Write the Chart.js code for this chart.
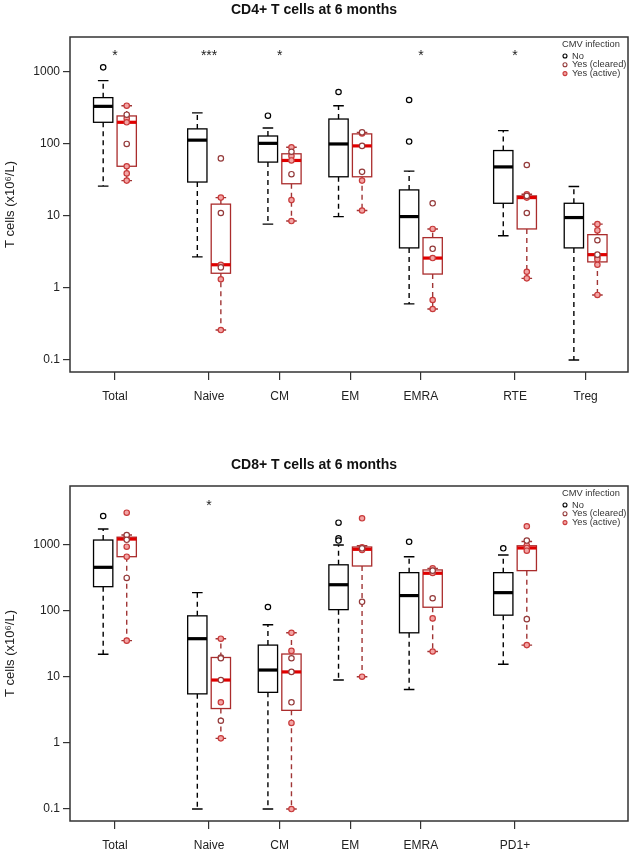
<!DOCTYPE html>
<html>
<head>
<meta charset="utf-8">
<script src="https://cdn.jsdelivr.net/npm/chart.js@4.4.1/dist/chart.umd.min.js"></script>
<style>
  body { margin: 0; background: #fff; }
  #wrap { position: relative; width: 632px; height: 853px; }
  canvas { position: absolute; left: 0; }
</style>
</head>
<body>
<div id="wrap">
  <canvas id="cd4Chart" width="632" height="450" style="top:0;width:632px;height:450px"></canvas>
  <canvas id="cd8Chart" width="632" height="403" style="top:450px;width:632px;height:403px"></canvas>
</div>
<script>
// ---- CD4+ panel data ----
const cd4Categories = ['Total', 'Naive', 'CM', 'EM', 'EMRA', 'RTE', 'Treg'];
const cd4Signif = ['*', '***', '*', '', '*', '*', ''];
// [lower whisker, Q1, median, Q3, upper whisker]
const cd4NoBox = [
  [26, 200, 333, 440, 757],
  [2.7, 29.6, 113, 162, 270],
  [7.7, 56, 102, 129, 167],
  [9.8, 35, 100, 222, 340],
  [0.6, 3.6, 9.8, 23, 42],
  [5.3, 15, 48, 81, 153],
  [0.1, 3.6, 9.5, 15, 25.6]
];
const cd4NoOutliers = [[1160], [], [247], [527], [408, 108], [], []];
const cd4PosBox = [
  [31, 49, 200, 245, 340],
  [0.26, 1.6, 2.1, 14.6, 18],
  [8.5, 28, 59, 73, 90],
  [11.9, 35, 94, 138, 145],
  [0.51, 1.56, 2.6, 5.0, 6.6],
  [1.36, 6.6, 18, 19, 20],
  [0.8, 2.3, 2.9, 5.5, 7.7]
];
const cd4Cleared = [[100, 255], [63, 11, 1.93], [78, 38], [145, 94, 41], [15, 3.5], [51, 19, 11], [4.6, 2.9]];
const cd4Active = [[340, 225, 200, 49, 39, 31], [18, 2.1, 1.32, 0.26], [90, 68, 59, 16.6, 8.5],
  [140, 31, 11.9], [6.6, 2.6, 0.68, 0.51], [20, 18, 1.68, 1.36], [7.7, 6.3, 2.7, 2.5, 2.1, 0.8]];

// ---- CD8+ panel data ----
const cd8Categories = ['Total', 'Naive', 'CM', 'EM', 'EMRA', 'PD1+'];
const cd8Signif = ['', '*', '', '', '', ''];
const cd8NoBox = [
  [21.8, 229, 449, 1160, 1700],
  [0.1, 5.5, 37.5, 83, 186],
  [0.1, 5.8, 12.6, 30, 61],
  [8.9, 103, 245, 490, 975],
  [6.4, 46, 168, 373, 650],
  [15.4, 85, 186, 373, 690]
];
const cd8NoOutliers = [[2670], [], [113], [2120, 1230, 1140], [1090], [870]];
const cd8PosBox = [
  [35, 650, 1200, 1280, 1380],
  [1.17, 3.3, 8.9, 19.5, 37.5],
  [0.1, 3.1, 11.8, 22, 46],
  [10, 470, 840, 910, 950],
  [24, 112, 365, 410, 433],
  [30, 400, 880, 950, 1100]
];
const cd8Cleared = [[1380, 1170, 310], [19.5, 19, 8.9, 2.16], [19, 11.8, 4.1], [870, 135], [400, 153], [1140, 74]];
const cd8Active = [[3000, 1250, 920, 650, 35], [37.5, 4.1, 1.17], [46, 24.5, 2.0, 0.1],
  [2470, 900, 820, 10], [433, 370, 76, 24], [1870, 960, 880, 800, 30]];

const yTicks = [0.1, 1, 10, 100, 1000];
const legendLabels = ['No', 'Yes (cleared)', 'Yes (active)'];

// layout: horizontal slot of each category, box offset and widths (in slot units)
const slots = [1, 5, 8, 11, 14, 18, 21];
const BOX_W = 0.82, CAP_W = 0.45, SHIFT = 0.5;

const FONT = '"Liberation Sans", Arial, sans-serif';
Chart.defaults.font.family = FONT;
Chart.defaults.color = '#222';

const colNo = { line: '#000', border: '#000', median: '#000' };
const colPos = { line: '#a03535', border: '#aa2c2c', median: '#e00000' };
const markerStyles = [
  { stroke: '#000', fill: '#fff' },
  { stroke: '#943a3a', fill: '#fff' },
  { stroke: '#c83a3a', fill: '#f3a5a5' }
];

function toPoints(lists, offset) {
  return lists.flatMap((arr, i) => arr.map(v => ({ x: slots[i] + offset, y: v })));
}

function boxPlugin(p) {
  return {
    id: 'boxes',
    beforeDatasetsDraw(chart) {
      const { ctx, scales: { x, y } } = chart;
      ctx.save();
      [[p.noBox, -SHIFT, colNo], [p.posBox, SHIFT, colPos]].forEach(([stats, off, col]) => {
        stats.forEach((s, i) => {
          const c = slots[i] + off;
          const x0 = x.getPixelForValue(c - BOX_W / 2), x1 = x.getPixelForValue(c + BOX_W / 2);
          const xc = x.getPixelForValue(c);
          const k0 = x.getPixelForValue(c - CAP_W / 2), k1 = x.getPixelForValue(c + CAP_W / 2);
          const [lo, q1, med, q3, hi] = s.map(v => y.getPixelForValue(v));
          ctx.strokeStyle = col.line;
          ctx.lineWidth = 1.4;
          ctx.setLineDash([5, 4]);
          ctx.beginPath();
          ctx.moveTo(xc, q3); ctx.lineTo(xc, hi);
          ctx.moveTo(xc, q1); ctx.lineTo(xc, lo);
          ctx.stroke();
          ctx.setLineDash([]);
          ctx.beginPath();
          ctx.moveTo(k0, hi); ctx.lineTo(k1, hi);
          ctx.moveTo(k0, lo); ctx.lineTo(k1, lo);
          ctx.stroke();
          ctx.fillStyle = '#fff';
          ctx.fillRect(x0, q3, x1 - x0, q1 - q3);
          ctx.strokeStyle = col.border;
          ctx.lineWidth = 1.3;
          ctx.strokeRect(x0, q3, x1 - x0, q1 - q3);
          ctx.strokeStyle = col.median;
          ctx.lineWidth = 3.2;
          ctx.beginPath();
          ctx.moveTo(x0, med); ctx.lineTo(x1, med);
          ctx.stroke();
        });
      });
      ctx.restore();
    },
    afterDraw(chart) {
      const { ctx, chartArea: a, scales: { x, y } } = chart;
      ctx.save();
      // plot frame
      ctx.strokeStyle = '#333';
      ctx.lineWidth = 1.5;
      ctx.strokeRect(a.left, a.top, a.right - a.left, a.bottom - a.top);
      // significance stars
      ctx.fillStyle = '#222';
      ctx.font = '14px ' + FONT;
      ctx.textAlign = 'center';
      ctx.textBaseline = 'alphabetic';
      p.signif.forEach((s, i) => {
        if (s) ctx.fillText(s, x.getPixelForValue(slots[i]), y.getPixelForValue(p.starValue) + 7);
      });
      // legend
      ctx.textAlign = 'left';
      ctx.textBaseline = 'middle';
      ctx.font = '9.3px ' + FONT;
      ctx.fillStyle = '#333';
      ctx.fillText('CMV infection', a.right - 66, a.top + 7);
      legendLabels.forEach((lab, k) => {
        const ly = a.top + 19 + k * 8.8;
        ctx.beginPath();
        ctx.arc(a.right - 63, ly, 2, 0, Math.PI * 2);
        ctx.fillStyle = markerStyles[k].fill;
        ctx.fill();
        ctx.strokeStyle = markerStyles[k].stroke;
        ctx.lineWidth = 1.1;
        ctx.stroke();
        ctx.fillStyle = '#333';
        ctx.fillText(lab, a.right - 56, ly);
      });
      ctx.restore();
    }
  };
}

function makeChart(id, p) {
  const pt = { pointRadius: 2.7, pointHoverRadius: 2.7, pointBorderWidth: 1.2, showLine: false };
  new Chart(document.getElementById(id), {
    type: 'scatter',
    data: {
      datasets: [
        Object.assign({ label: legendLabels[0], data: toPoints(p.noOut, -SHIFT),
          borderColor: markerStyles[0].stroke, backgroundColor: markerStyles[0].fill }, pt),
        Object.assign({ label: legendLabels[1], data: toPoints(p.cleared, SHIFT),
          borderColor: markerStyles[1].stroke, backgroundColor: markerStyles[1].fill }, pt),
        Object.assign({ label: legendLabels[2], data: toPoints(p.active, SHIFT),
          borderColor: markerStyles[2].stroke, backgroundColor: markerStyles[2].fill }, pt)
      ]
    },
    options: {
      responsive: false,
      animation: false,
      devicePixelRatio: 1,
      events: [],
      layout: { padding: { left: 0, right: 4, top: 0, bottom: 0 } },
      plugins: {
        legend: { display: false },
        tooltip: { enabled: false },
        title: {
          display: true,
          text: p.title,
          color: '#111',
          font: { size: 14, weight: 'bold' },
          padding: p.titlePad
        }
      },
      scales: {
        x: {
          type: 'linear',
          min: -0.91,
          max: 22.8,
          afterBuildTicks: s => { s.ticks = slots.slice(0, p.categories.length).map(v => ({ value: v })); },
          afterFit: s => { s.height = p.xHeight; },
          ticks: {
            autoSkip: false,
            maxRotation: 0,
            padding: 9,
            font: { size: 12 },
            color: '#222',
            callback: v => p.categories[slots.indexOf(v)]
          },
          grid: { drawOnChartArea: false, drawTicks: true, tickLength: 8, color: '#333', lineWidth: 1.2 },
          border: { display: false }
        },
        y: {
          type: 'logarithmic',
          min: p.yMin,
          max: p.yMax,
          afterBuildTicks: s => { s.ticks = yTicks.map(v => ({ value: v })); },
          afterFit: s => { s.width = 70; },
          ticks: {
            padding: 3,
            font: { size: 12 },
            color: '#222',
            callback: v => String(v)
          },
          grid: { drawOnChartArea: false, drawTicks: true, tickLength: 7, color: '#333', lineWidth: 1.2 },
          border: { display: false },
          title: {
            display: true,
            text: 'T cells (x10\u2076/L)',
            font: { size: 13 },
            color: '#222',
            padding: { top: 3, bottom: 0 }
          }
        }
      }
    },
    plugins: [boxPlugin(p)]
  });
}

makeChart('cd4Chart', {
  title: 'CD4+ T cells at 6 months',
  titlePad: { top: 2, bottom: 18.2 },
  categories: cd4Categories,
  signif: cd4Signif,
  noBox: cd4NoBox, noOut: cd4NoOutliers,
  posBox: cd4PosBox, cleared: cd4Cleared, active: cd4Active,
  yMin: 0.068, yMax: 3060, starValue: 1840, xHeight: 78
});

makeChart('cd8Chart', {
  title: 'CD8+ T cells at 6 months',
  titlePad: { top: 7, bottom: 12.2 },
  categories: cd8Categories,
  signif: cd8Signif,
  noBox: cd8NoBox, noOut: cd8NoOutliers,
  posBox: cd8PosBox, cleared: cd8Cleared, active: cd8Active,
  yMin: 0.066, yMax: 7600, starValue: 4200, xHeight: 32
});
</script>
</body>
</html>
